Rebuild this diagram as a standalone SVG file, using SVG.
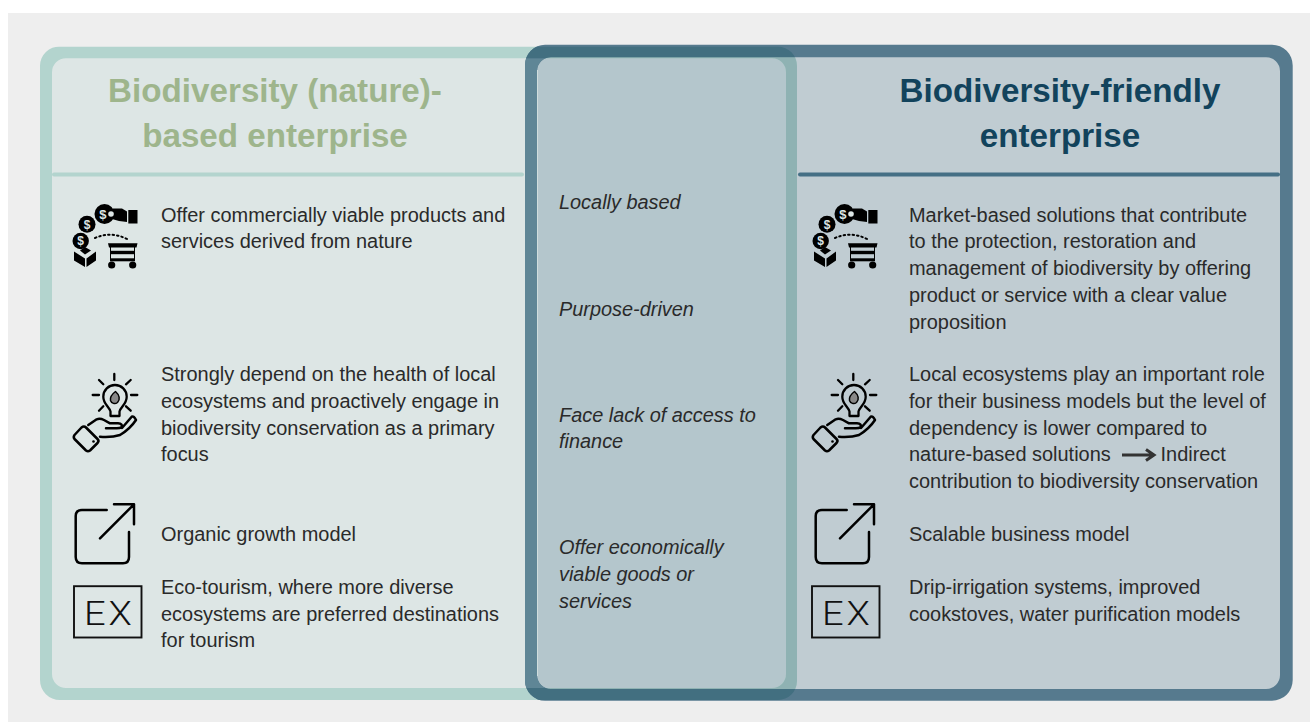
<svg xmlns="http://www.w3.org/2000/svg" xmlns:xlink="http://www.w3.org/1999/xlink" width="1310" height="722" viewBox="0 0 1310 722">
<style>
text{font-family:"Liberation Sans",Arial,sans-serif}
.b{font-size:19.940px;fill:#2a2a2a}
.i{font-size:19.900px;fill:#2a2a2a;font-style:italic}
.t{font-size:33.200px;font-weight:700;text-anchor:middle}
.d{font-size:13px;font-weight:700;fill:#dde6e5;text-anchor:middle}
.s{fill:none;stroke:#000;stroke-linecap:round;stroke-linejoin:round}
</style>
<defs>
<path id="lring" fill-rule="evenodd" d="M60 46.700H778A19 19 0 0 1 797 65.700V681A19 19 0 0 1 778 700H60A20 20 0 0 1 40 680V65.700A19 19 0 0 1 60 46.700ZM66 58.200A14 14 0 0 0 52 72.200V674A14 14 0 0 0 66 688H772A14 14 0 0 0 786 674V72.200A14 14 0 0 0 772 58.200Z"/>
<path id="rring" fill-rule="evenodd" d="M545 44.700H1272A20.700 20.700 0 0 1 1292.700 65.400V680A20.700 20.700 0 0 1 1272 700.700H545A20 20 0 0 1 525 680.700V65A20.300 20.300 0 0 1 545 44.700ZM551 57.200A14 14 0 0 0 537 71.200V675A14 14 0 0 0 551 689H1266A14 14 0 0 0 1280 675V71.200A14 14 0 0 0 1266 57.200Z"/>
<clipPath id="cLring"><use xlink:href="#lring" clip-rule="evenodd"/></clipPath>
<clipPath id="cRin"><rect x="537" y="57.200" width="743" height="631.800" rx="14"/></clipPath>
<clipPath id="cLin"><rect x="52" y="58.200" width="734" height="629.800" rx="14"/></clipPath>
<g id="icoMoney">
<circle cx="104.500" cy="214" r="10"/><circle cx="87" cy="224.300" r="8.500"/><circle cx="80.700" cy="241" r="8.200"/>
<rect x="128.300" y="210" width="9.200" height="13.500"/>
<path d="M113 208.500L122 208.500L127 211.500V222L119 221L112 219L109 214Z"/>
<circle cx="111" cy="214" r="2.800" fill="#dde6e5"/>
<text class="d" x="102.800" y="218.500">$</text><text class="d" x="87" y="228.800" style="font-size:12px">$</text><text class="d" x="80.700" y="245.300" style="font-size:12px">$</text>
<path d="M74 251.500L85 258.500V267L74 260.500ZM86.500 258.500L96 251.500V260.500L86.500 267ZM80 250.500L85 247L91 250.500L85 254.500Z"/>
<path class="s" style="stroke-width:2;stroke-dasharray:1.500 3" d="M95 238Q111 231 127 239"/>
<path d="M108 243.300H137.500L136.500 247.500H109ZM110 247H111V259H134V247H135V261H110Z"/>
<rect x="110" y="250.800" width="25" height="3.400"/><rect x="110" y="258.300" width="25" height="3"/>
<circle cx="111.700" cy="265" r="3.600"/><circle cx="132.700" cy="265" r="3.600"/>
</g>
<g id="icoBulb">
<path class="s" style="stroke-width:2.300" d="M114.300 374V380M92.700 395H99M131 395H137.300M99 380L103.300 384.300M130.700 380L126 384.300M99 410.700L103.300 406.300M130.700 410.700L126 406.300"/>
<path class="s" style="stroke-width:2.300" d="M110.500 416V411.500C109 406.500 103.300 404 103.300 396.700A11.700 11.700 0 0 1 126.700 396.700C126.700 404 121 406.500 119.500 411.500V416Z"/>
<path d="M115.500 391.500C111.500 394.500 110 398 110.500 400.500C111.500 403.500 115 404.500 117.500 402.500C120.500 399.500 119.500 395 115.500 391.500Z" fill="#888" stroke="#000" stroke-width="1.500" stroke-linejoin="round"/>
<path class="s" style="stroke-width:2.500" d="M88.300 425L96.700 419.300Q100 418 104 420L110 423.300H118Q123 423.500 122 428L131.700 416.700Q134 415.500 136 420Q130 429 120 435Q112 437.500 100 436.700M106 428.300H116.700Q120 428.300 122 427"/>
<path class="s" style="stroke-width:2.500" d="M81.500 427.500Q84 425.500 86 427.500L97.500 439Q99.500 441 97.500 443L90 450.500Q88 452 86 450.500L74.500 439Q73 437 74.500 435Z"/>
<circle cx="93.500" cy="441.500" r="1.300"/>
</g>
<g id="icoOut">
<path class="s" style="stroke-width:2.500" d="M106.700 510H82Q75.700 510 75.700 516V557Q75.700 563.300 82 563.300H123Q129 563.300 129 557V532M100 538.300L134 504.300M114 504.300H134V524.300"/>
</g>
<g id="icoEx">
<rect x="74" y="586.200" width="67.500" height="51.300" fill="none" stroke="#111" stroke-width="1.900"/>
<text transform="translate(84 625) scale(1.120 1)" style="font-family:Roboto,sans-serif;font-weight:300;font-size:34px;fill:#111;letter-spacing:2.500px">EX</text>
</g>
</defs>

<rect width="1310" height="722" fill="#fff"/>
<rect x="8" y="13" width="1302" height="709" fill="#eeeeee"/>

<g id="left-panel">
<rect x="46" y="52" width="745" height="642" rx="16" fill="#dde6e5"/>
</g>
<g id="right-panel">
<rect x="531" y="51" width="755" height="644" rx="16" fill="#557d91" fill-opacity=".3"/>
</g>
<g id="frames">
<use xlink:href="#lring" fill="#b3d4ce"/>
<use xlink:href="#rring" fill="#567a8e"/>
<g clip-path="url(#cRin)"><use xlink:href="#lring" fill="#8fb2b3"/></g>
<g clip-path="url(#cLin)"><use xlink:href="#rring" fill="#5f8696"/></g>
<g clip-path="url(#cLring)"><use xlink:href="#rring" fill="#426f80"/></g>
<rect x="537" y="70" width="1" height="606" fill="#cfdddd"/>
<rect x="52" y="172.500" width="472" height="4" rx="2" fill="#b3d4ce"/>
<rect x="798" y="172.500" width="482" height="4" rx="2" fill="#456f85"/>
</g>

<g id="left-column">
<text class="t" fill="#9eb58c" x="275" y="102">Biodiversity (nature)-</text>
<text class="t" fill="#9eb58c" x="275" y="147">based enterprise</text>
<use xlink:href="#icoMoney"/>
<text class="b" x="161" y="222">Offer commercially viable products and</text>
<text class="b" x="161" y="248.300">services derived from nature</text>
<use xlink:href="#icoBulb"/>
<text class="b" x="161" y="381">Strongly depend on the health of local</text>
<text class="b" x="161" y="407.600">ecosystems and proactively engage in</text>
<text class="b" x="161" y="434.700">biodiversity conservation as a primary</text>
<text class="b" x="161" y="460.800">focus</text>
<use xlink:href="#icoOut"/>
<text class="b" x="161" y="541">Organic growth model</text>
<use xlink:href="#icoEx"/>
<text class="b" x="161" y="594">Eco-tourism, where more diverse</text>
<text class="b" x="161" y="620.600">ecosystems are preferred destinations</text>
<text class="b" x="161" y="647.200">for tourism</text>
</g>

<g id="center-column">
<text class="i" x="559" y="209">Locally based</text>
<text class="i" x="559" y="315.600">Purpose-driven</text>
<text class="i" x="559" y="421.800">Face lack of access to</text>
<text class="i" x="559" y="448">finance</text>
<text class="i" x="559" y="554">Offer economically</text>
<text class="i" x="559" y="581">viable goods or</text>
<text class="i" x="559" y="607.700">services</text>
</g>

<g id="right-column">
<text class="t" fill="#12435c" x="1060" y="102">Biodiversity-friendly</text>
<text class="t" fill="#12435c" x="1060" y="147">enterprise</text>
<use xlink:href="#icoMoney" x="740"/>
<text class="b" x="909" y="222">Market-based solutions that contribute</text>
<text class="b" x="909" y="248.300">to the protection, restoration and</text>
<text class="b" x="909" y="275.200">management of biodiversity by offering</text>
<text class="b" x="909" y="301.800">product or service with a clear value</text>
<text class="b" x="909" y="328.700">proposition</text>
<use xlink:href="#icoBulb" x="739"/>
<text class="b" x="909" y="381">Local ecosystems play an important role</text>
<text class="b" x="909" y="407.600">for their business models but the level of</text>
<text class="b" x="909" y="434.700">dependency is lower compared to</text>
<text class="b" x="909" y="460.800">nature-based solutions</text>
<path d="M1122 455H1153M1146 449.500L1154 455L1146 460.500" fill="none" stroke="#333" stroke-width="3"/>
<text class="b" x="1160.500" y="460.800">Indirect</text>
<text class="b" x="909" y="487.800">contribution to biodiversity conservation</text>
<use xlink:href="#icoOut" x="740"/>
<text class="b" x="909" y="541">Scalable business model</text>
<use xlink:href="#icoEx" x="738"/>
<text class="b" x="909" y="594">Drip-irrigation systems, improved</text>
<text class="b" x="909" y="620.600">cookstoves, water purification models</text>
</g>
</svg>
